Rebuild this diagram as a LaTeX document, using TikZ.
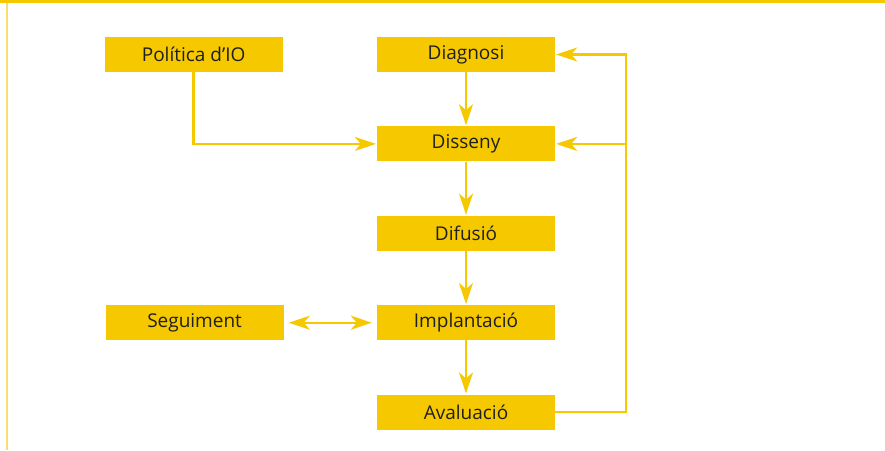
\documentclass[tikz,border=0pt]{standalone}
\usepackage{fontspec}
\setmainfont{Open Sans}
\usetikzlibrary{arrows.meta,positioning}
\definecolor{ioyellow}{RGB}{245,200,0}
\definecolor{iopale}{RGB}{248,222,110}

\begin{document}
\begin{tikzpicture}
    [node distance=54pt and 94pt,
    box/.style={fill=ioyellow,minimum width=178pt,minimum height=35pt,inner sep=0pt,font=\fontsize{19}{21}\selectfont,text=black!88},
    pre/.style={<-,shorten <=1pt,line width=2.4pt,draw=ioyellow},
    post/.style={->,shorten >=1pt,line width=2.4pt,draw=ioyellow},
    >={Stealth[length=21pt,width=14pt,inset=6pt]}]
    \useasboundingbox (0,0) rectangle (885pt,-450pt);
    \fill[ioyellow] (0,0) rectangle (885pt,-3pt);
    \draw[iopale,line width=2pt] (7pt,-3pt) -- (7pt,-450pt);
    \node[box] (diagnosi) at (466pt,-54.5pt) {Diagnosi};
    \node[box] (politica) [left=of diagnosi] {Política d’IO};
    \node[box] (disseny) [below=of diagnosi] {Disseny}
    edge [pre] (diagnosi);
    \node[box] (difusio) [below=of disseny] {Difusió}
    edge [pre] (disseny);
    \node[box] (implantacio) [below=of difusio] {Implantació}
    edge [pre] (difusio);
    \node[box] (avaluacio) [below=of implantacio] {Avaluació}
    edge [pre] (implantacio);
    \node[box] (seguiment) [left=93pt of implantacio] {Seguiment};
    \draw[post] (politica.south) |- (disseny.west);
    \draw[post,<->,shorten <=5pt,shorten >=5pt] (seguiment) -- (implantacio);
    \draw[post] (avaluacio.east) -- ++(71pt,0) coordinate (retorn) |- (diagnosi.east);
    \draw[post] (retorn |- disseny) -- (disseny.east);
\end{tikzpicture}
\end{document}
